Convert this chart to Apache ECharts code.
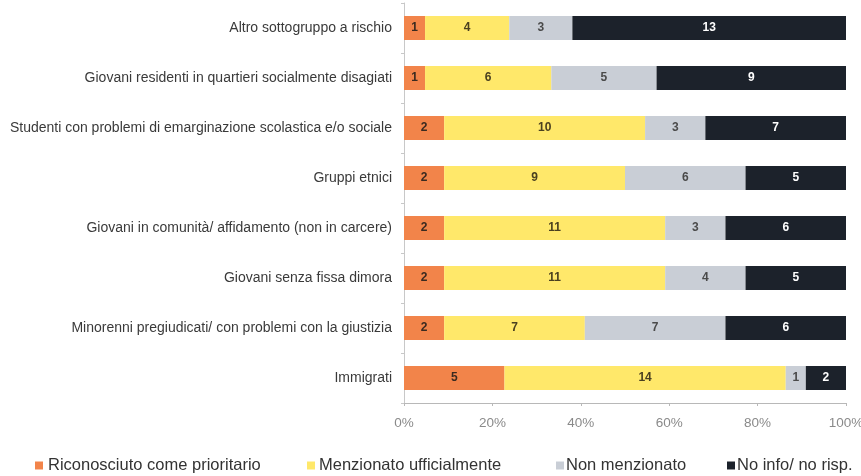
<!DOCTYPE html>
<html>
<head>
<meta charset="utf-8">
<script src="https://cdn.jsdelivr.net/npm/echarts@6/dist/echarts.min.js"></script>
<style>
  html, body { margin: 0; padding: 0; background: #ffffff; }
  #chart { width: 861px; height: 476px; }
</style>
</head>
<body>
<div id="chart"></div>
<script>
// Target groups, top to bottom
const categories = [
  'Altro sottogruppo a rischio',
  'Giovani residenti in quartieri socialmente disagiati',
  'Studenti con problemi di emarginazione scolastica e/o sociale',
  'Gruppi etnici',
  'Giovani in comunità/ affidamento (non in carcere)',
  'Giovani senza fissa dimora',
  'Minorenni pregiudicati/ con problemi con la giustizia',
  'Immigrati'
];

const seriesNames = [
  'Riconosciuto come prioritario',
  'Menzionato ufficialmente',
  'Non menzionato',
  'No info/ no risp.'
];

// Counts per group
const riconosciuto = [1, 1, 2, 2, 2, 2, 2, 5];
const menzionato   = [4, 6, 10, 9, 11, 11, 7, 14];
const nonMenz      = [3, 5, 3, 6, 3, 4, 7, 1];
const noInfo       = [13, 9, 7, 5, 6, 5, 6, 2];

const xTicks = ['0%', '20%', '40%', '60%', '80%', '100%'];

const counts = [riconosciuto, menzionato, nonMenz, noInfo];
const colors = ['#F2844A', '#FFE86A', '#C9CED6', '#1C222B'];
const labelColors = ['#3a2a20', '#4a4020', '#4a4a4a', '#ffffff'];
const FONT = 'Liberation Sans, Arial, sans-serif';

// Row totals for the 100% stack
const totals = categories.map((_, i) => counts.reduce((s, arr) => s + arr[i], 0));

const series = counts.map((arr, k) => ({
  name: seriesNames[k],
  type: 'bar',
  stack: 'total',
  barWidth: 24,
  itemStyle: { color: colors[k] },
  label: {
    show: true,
    position: 'inside',
    color: labelColors[k],
    fontFamily: FONT,
    fontSize: 12,
    fontWeight: 'bold',
    formatter: p => arr[p.dataIndex]
  },
  emphasis: { disabled: true },
  data: arr.map((v, i) => v / totals[i] * 100)
}));

// Legend entries laid out individually along the bottom
const legendPos = [35, 307, 556, 727];
const legendTextShift = [0, -1, -3, -3];
const legends = seriesNames.map((n, k) => ({
  data: [n],
  left: legendPos[k],
  top: 457,
  padding: 0,
  itemWidth: 8,
  itemHeight: 8,
  itemGap: 0,
  icon: 'rect',
  textStyle: {
    fontFamily: FONT,
    fontSize: 16.5,
    color: '#333',
    padding: [0, 0, 0, legendTextShift[k]]
  }
}));

const chart = echarts.init(document.getElementById('chart'), null, { renderer: 'canvas' });
chart.setOption({
  animation: false,
  backgroundColor: '#ffffff',
  grid: { left: 404, right: 15, top: 3, bottom: 73, outerBoundsMode: 'none', containLabel: false },
  legend: legends,
  xAxis: {
    type: 'value',
    min: 0,
    max: 100,
    interval: 20,
    axisLine: { show: true, lineStyle: { color: '#b8b8b8' } },
    axisTick: { show: true, length: 3, lineStyle: { color: '#b8b8b8' } },
    splitLine: { show: false },
    axisLabel: {
      margin: 13,
      color: '#8a8a8a',
      fontFamily: FONT,
      fontSize: 13.5,
      formatter: v => xTicks[v / 20]
    }
  },
  yAxis: {
    type: 'category',
    inverse: true,
    data: categories,
    axisLine: { show: true, lineStyle: { color: '#c8c8c8' } },
    axisTick: { show: true, length: 3, lineStyle: { color: '#c8c8c8' } },
    axisLabel: {
      margin: 12,
      color: '#3a3a3a',
      fontFamily: FONT,
      fontSize: 14
    }
  },
  series: series
});
</script>
</body>
</html>
